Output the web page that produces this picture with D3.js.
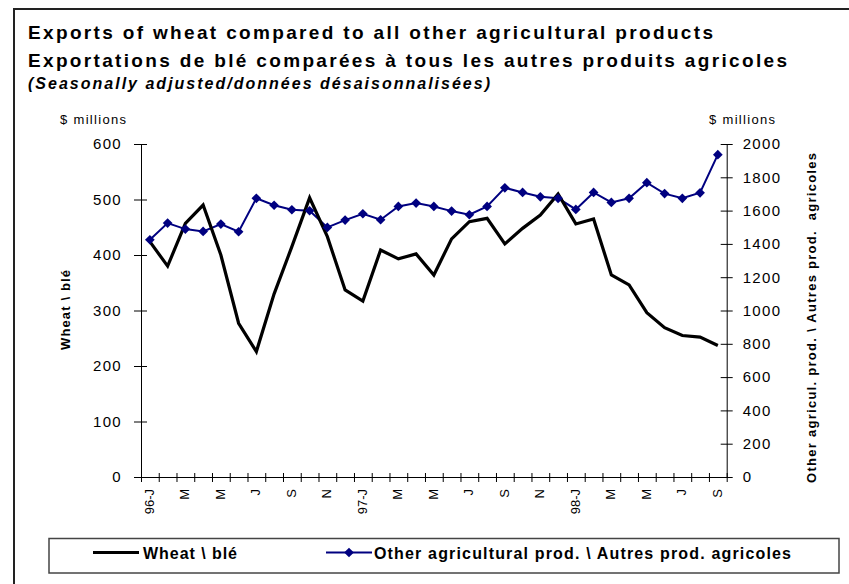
<!DOCTYPE html>
<html>
<head>
<meta charset="utf-8">
<script src="https://cdn.jsdelivr.net/npm/d3@7"></script>
<style>
  body { margin: 0; background: #fff; }
  svg text { font-family: "Liberation Sans", Arial, sans-serif; fill: #000; }
</style>
</head>
<body>
<svg id="chart" width="849" height="584"></svg>
<script>
// month labels (only every second one is printed on the axis)
const months = ['96-J', 'F', 'M', 'A', 'M', 'J', 'J', 'A', 'S', 'O', 'N', 'D',
  '97-J', 'F', 'M', 'A', 'M', 'J', 'J', 'A', 'S', 'O', 'N', 'D',
  '98-J', 'F', 'M', 'A', 'M', 'J', 'J', 'A', 'S']

// $ millions, left axis
const wheat = [424, 380, 457, 490, 400, 277, 226, 330, 415, 503, 433, 337,
  317, 409, 393, 402, 364, 429, 460, 466, 420, 448, 472, 510,
  456, 465, 364, 346, 296, 269, 255, 252, 237]

// $ millions, right axis
const otherAgri = [1425, 1525, 1489, 1475, 1519, 1473, 1674, 1632, 1605, 1599, 1499, 1543,
  1581, 1545, 1625, 1645, 1625, 1597, 1575, 1625, 1737, 1709, 1683, 1674,
  1607, 1709, 1649, 1674, 1768, 1702, 1674, 1707, 1936]

const leftTicks = [0, 100, 200, 300, 400, 500, 600]
const rightTicks = [0, 200, 400, 600, 800, 1000, 1200, 1400, 1600, 1800, 2000]

const svg = d3.select('#chart')
const plot = { left: 141, right: 726.7, top: 144, bottom: 477 }

// outer frame (runs off the right/bottom edge like the original)
svg.append('rect')
  .attr('x', 14).attr('y', 9).attr('width', 860).attr('height', 600)
  .attr('fill', 'none').attr('stroke', '#222').attr('stroke-width', 2)

// titles (Excel spaces the letters out a bit)
svg.append('text').attr('x', 28).attr('y', 39)
  .attr('font-size', 19).attr('font-weight', 'bold')
  .attr('textLength', 685).attr('lengthAdjust', 'spacing')
  .text('Exports of wheat compared to all other agricultural products')
svg.append('text').attr('x', 28).attr('y', 67)
  .attr('font-size', 19).attr('font-weight', 'bold')
  .attr('textLength', 759).attr('lengthAdjust', 'spacing')
  .text('Exportations de blé comparées à tous les autres produits agricoles')
svg.append('text').attr('x', 28).attr('y', 89)
  .attr('font-size', 16).attr('font-weight', 'bold').attr('font-style', 'italic')
  .attr('textLength', 462).attr('lengthAdjust', 'spacing')
  .text('(Seasonally adjusted/données désaisonnalisées)')

svg.append('text').attr('x', 60).attr('y', 124).attr('font-size', 13)
  .attr('textLength', 66).attr('lengthAdjust', 'spacing').text('$ millions')
svg.append('text').attr('x', 709).attr('y', 124).attr('font-size', 13)
  .attr('textLength', 66).attr('lengthAdjust', 'spacing').text('$ millions')

const x = d3.scaleBand()
  .domain(d3.range(months.length))
  .range([plot.left, plot.right])
const xEdge = d3.scaleLinear()
  .domain([0, months.length])
  .range([plot.left, plot.right])
const cx = i => x(i) + x.bandwidth() / 2

const yL = d3.scaleLinear().domain([0, 600]).range([plot.bottom, plot.top])
const yR = d3.scaleLinear().domain([0, 2000]).range([plot.bottom, plot.top])

function crossTicks (g, a, b, horiz) {
  g.selectAll('.tick line')
    .attr(horiz ? 'y1' : 'x1', a)
    .attr(horiz ? 'y2' : 'x2', b)
    .attr('stroke', '#000')
  g.select('.domain').attr('stroke', '#000')
}

function tickText (g) {
  g.selectAll('.tick text')
    .attr('font-size', 15).attr('letter-spacing', 1.3)
    .attr('font-family', '"Liberation Sans", Arial, sans-serif').attr('fill', '#000')
}

// left axis
svg.append('g')
  .attr('transform', `translate(${plot.left},0)`)
  .call(d3.axisLeft(yL).tickValues(leftTicks).tickFormat(d3.format('d')).tickSizeOuter(0).tickSize(0).tickPadding(19))
  .call(g => crossTicks(g, -7, 6, false))
  .call(tickText)

// right axis
svg.append('g')
  .attr('transform', `translate(${plot.right},0)`)
  .call(d3.axisRight(yR).tickValues(rightTicks).tickFormat(d3.format('d')).tickSizeOuter(0).tickSize(0).tickPadding(16))
  .call(g => crossTicks(g, -6, 6, false))
  .call(tickText)

// bottom axis: tick at every month boundary
svg.append('g')
  .attr('transform', `translate(0,${plot.bottom})`)
  .call(d3.axisBottom(xEdge).tickValues(d3.range(months.length + 1)).tickFormat('').tickSizeOuter(0).tickSize(0))
  .call(g => crossTicks(g, -4, 5, true))

// month labels, rotated
svg.append('g')
  .selectAll('text')
  .data(months.map((m, i) => ({ m, i })).filter(d => d.i % 2 === 0))
  .join('text')
  .attr('transform', d => `translate(${cx(d.i) - 0.5},489) rotate(-90)`)
  .attr('text-anchor', 'end')
  .attr('dy', '0.35em')
  .attr('font-size', 13)
  .text(d => d.m)

// axis titles
svg.append('text')
  .attr('transform', `translate(70,310) rotate(-90)`)
  .attr('text-anchor', 'middle')
  .attr('font-size', 13).attr('font-weight', 'bold')
  .attr('textLength', 80).attr('lengthAdjust', 'spacing')
  .text('Wheat \\ blé')
svg.append('text')
  .attr('transform', `translate(816,318) rotate(-90)`)
  .attr('text-anchor', 'middle')
  .attr('font-size', 13).attr('font-weight', 'bold')
  .attr('textLength', 330).attr('lengthAdjust', 'spacing')
  .attr('xml:space', 'preserve')
  .text('Other agricul. prod. \\ Autres prod.  agricoles')

// series
const wheatLine = d3.line()
  .x((d, i) => cx(i))
  .y(d => yL(d))
const otherLine = d3.line()
  .x((d, i) => cx(i))
  .y(d => yR(d))

svg.append('path')
  .datum(otherAgri)
  .attr('d', otherLine)
  .attr('fill', 'none').attr('stroke', '#000080').attr('stroke-width', 2)

svg.append('path')
  .datum(wheat)
  .attr('d', wheatLine)
  .attr('fill', 'none').attr('stroke', '#000').attr('stroke-width', 3.2)
  .attr('stroke-linejoin', 'miter')

const diamond = d3.symbol().type(d3.symbolDiamond2).size(60)
svg.append('g')
  .selectAll('path')
  .data(otherAgri)
  .join('path')
  .attr('transform', (d, i) => `translate(${cx(i)},${yR(d)})`)
  .attr('d', diamond)
  .attr('fill', '#000080')

// legend
const legend = svg.append('g')
legend.append('rect')
  .attr('x', 49).attr('y', 538.5).attr('width', 790).attr('height', 34.5)
  .attr('fill', '#fff').attr('stroke', '#444').attr('stroke-width', 1.5)

legend.append('line')
  .attr('x1', 93).attr('x2', 139).attr('y1', 552.5).attr('y2', 552.5)
  .attr('stroke', '#000').attr('stroke-width', 3.2)
legend.append('text').attr('x', 143).attr('y', 559)
  .attr('font-size', 16).attr('font-weight', 'bold')
  .attr('textLength', 94).attr('lengthAdjust', 'spacing')
  .text('Wheat \\ blé')

legend.append('line')
  .attr('x1', 326).attr('x2', 372).attr('y1', 552.5).attr('y2', 552.5)
  .attr('stroke', '#000080').attr('stroke-width', 2)
legend.append('path')
  .attr('transform', 'translate(349,552.5)')
  .attr('d', diamond)
  .attr('fill', '#000080')
legend.append('text').attr('x', 374).attr('y', 559)
  .attr('font-size', 16).attr('font-weight', 'bold')
  .attr('textLength', 417).attr('lengthAdjust', 'spacing')
  .text('Other agricultural prod. \\ Autres prod. agricoles')
</script>
</body>
</html>
